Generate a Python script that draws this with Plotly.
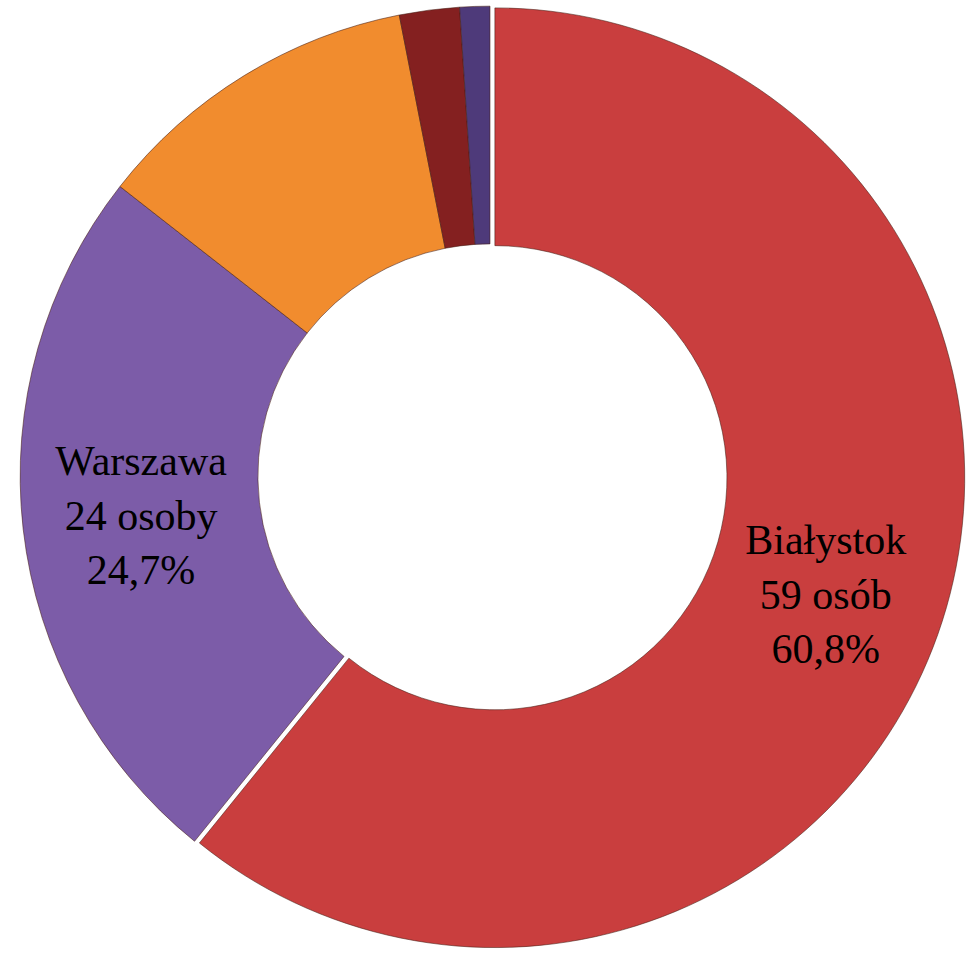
import plotly.graph_objects as go

labels = ["Białystok", "Warszawa", "Inne miasto", "Miasto B", "Miasto C"]
values = [59, 24, 11, 2, 1]
texts = ["Białystok<br>59 osób<br>60,8%", "Warszawa<br>24 osoby<br>24,7%", "", "", ""]
colors = ["#C93E3E", "#7C5CA8", "#F18C2E", "#842020", "#4E3A7A"]
pulls = [0.011, 0, 0, 0, 0]

fig = go.Figure(go.Pie(
    labels=labels,
    values=values,
    text=texts,
    textinfo="text",
    textposition="inside",
    insidetextorientation="horizontal",
    hole=0.494,
    sort=False,
    direction="clockwise",
    rotation=0,
    pull=pulls,
    marker=dict(colors=colors, line=dict(color="rgba(70,30,20,0.55)", width=1)),
    textfont=dict(family="Liberation Serif, Times New Roman, serif", size=42, color="black"),
    showlegend=False,
    hoverinfo="label+value+percent",
))

fig.update_layout(
    width=971, height=954,
    margin=dict(l=15, r=6, t=1, b=3),
    paper_bgcolor="white",
    plot_bgcolor="white",
    uniformtext=dict(minsize=42, mode="show"),
)

fig.write_html("out.html", config={"displayModeBar": False},
               post_script="document.body.style.margin='0';")
